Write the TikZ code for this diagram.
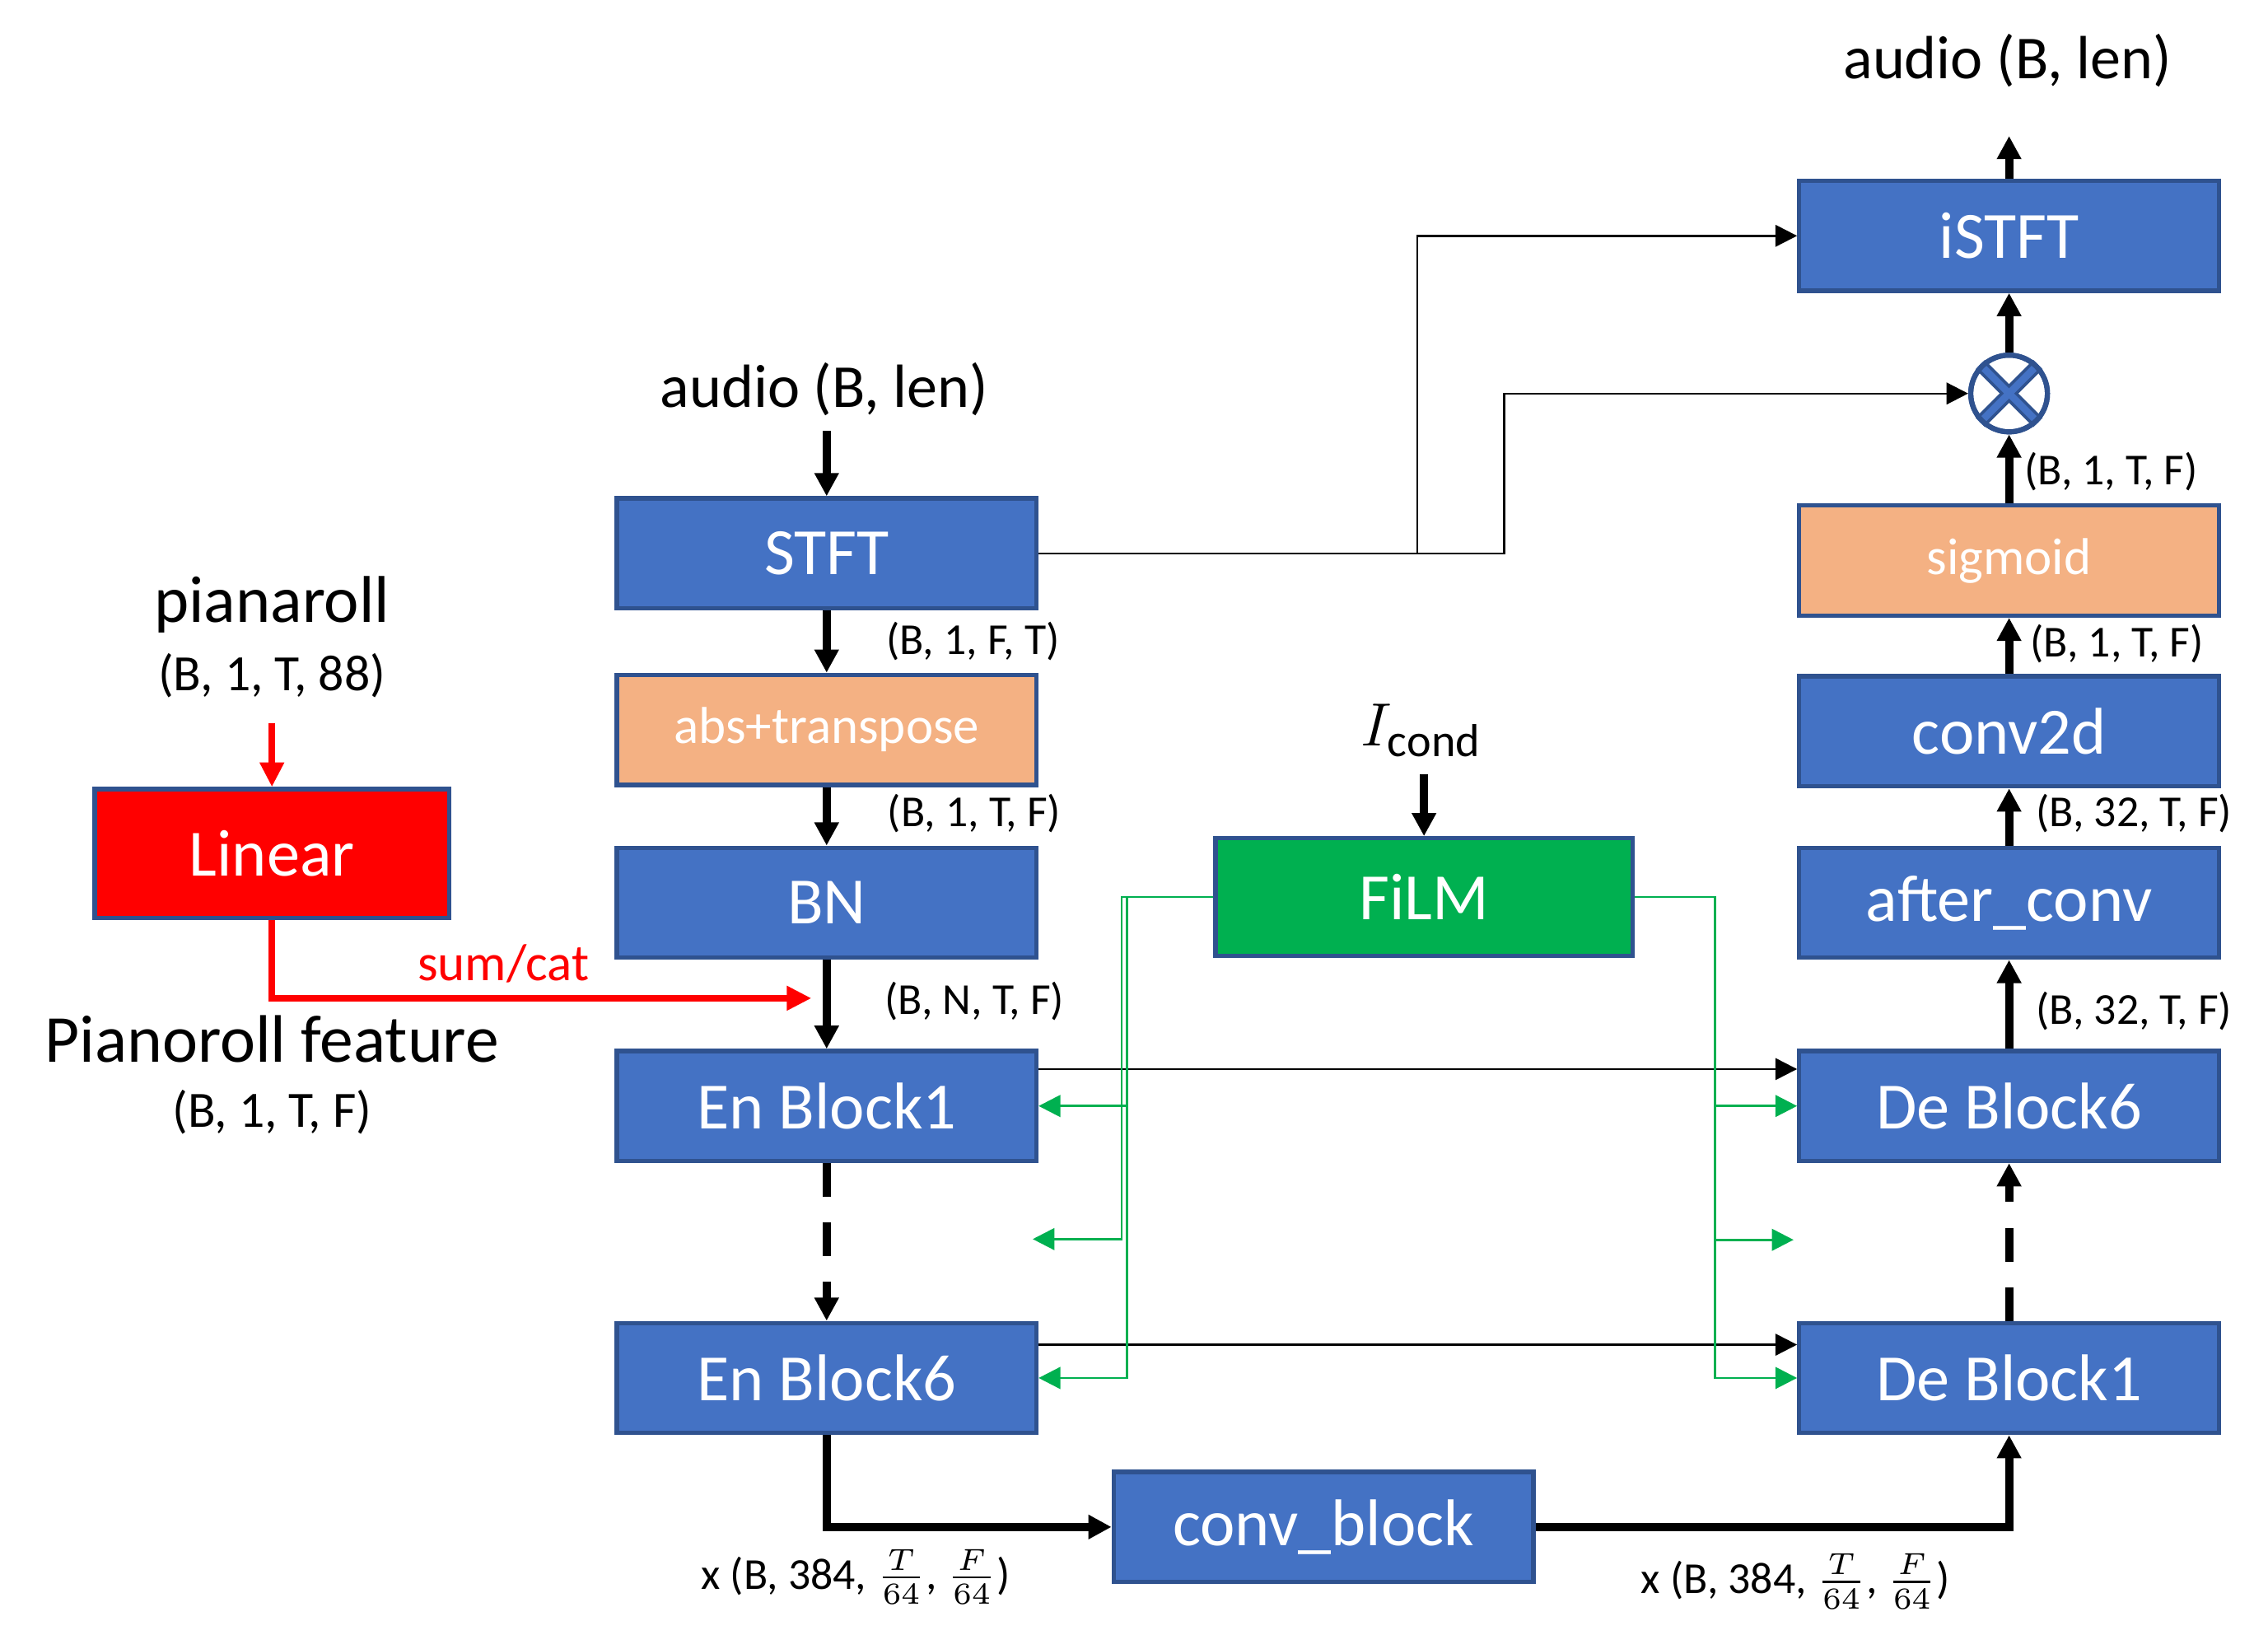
\documentclass[tikz,border=0pt]{standalone}
\usepackage{fontspec}
\setmainfont{Carlito}
\usetikzlibrary{arrows.meta,calc}
\definecolor{bluef}{HTML}{4472C4}
\definecolor{bordc}{HTML}{2F528F}
\definecolor{orangef}{HTML}{F4B183}
\definecolor{greenf}{HTML}{00B050}
\definecolor{redf}{HTML}{FF0000}
\begin{document}
\begin{tikzpicture}[x=0.01cm,y=-0.01cm,
  box/.style={draw=bordc, line width=0.85pt, fill=bluef, text=white, minimum width=2.90cm, minimum height=0.76cm, inner sep=0pt, font=\fontsize{13}{15}\selectfont},
  obox/.style={box, fill=orangef, font=\fontsize{10.2}{12}\selectfont},
  dimlab/.style={font=\fontsize{8.7}{10}\selectfont, anchor=west, inner sep=0pt},
  biglab/.style={font=\fontsize{12}{14}\selectfont, inner sep=0pt},
  thickarr/.style={line width=1.6pt, -{Triangle[length=0.16cm,width=0.16cm]}},
  thinarr/.style={line width=0.4pt, -{Triangle[length=0.15cm,width=0.15cm]}},
  garr/.style={color=greenf, line width=0.45pt, -{Triangle[length=0.15cm,width=0.15cm]}},
  redarr/.style={color=redf, line width=1.3pt, -{Triangle[length=0.17cm,width=0.16cm]}},
  dashy/.style={dash pattern=on 0.23cm off 0.18cm},
]
\useasboundingbox (0,0) rectangle (1568,1130);

% boxes
\node[box] (istft) at (1389,163) {iSTFT};
\node[box] (stft) at (571.5,382.5) {STFT};
\node[obox] (sig) at (1389,387.5) {sigmoid};
\node[obox] (abs) at (571.5,504.5) {abs+transpose};
\node[box] (c2d) at (1389,505.5) {conv2d};
\node[box, fill=redf, minimum width=2.45cm, minimum height=0.89cm] (lin) at (188,590) {Linear};
\node[box] (bn) at (571.5,624) {BN};
\node[box, fill=greenf, minimum width=2.88cm, minimum height=0.81cm] (film) at (984.5,620) {FiLM};
\node[box] (ac) at (1389,624) {after\_conv};
\node[box] (en1) at (571.5,764.5) {En Block1};
\node[box] (de6) at (1389,764.5) {De Block6};
\node[box] (en6) at (571.5,952.5) {En Block6};
\node[box] (de1) at (1389,952.5) {De Block1};
\node[box] (cb) at (915,1055.5) {conv\_block};

% multiply
\node[circle, draw=bordc, line width=1pt, fill=white, minimum size=0.53cm, inner sep=0pt] (mul) at (1389,272) {};
\draw[bordc, line width=2.6pt] (mul.45) -- (mul.225);
\draw[bordc, line width=2.6pt] (mul.135) -- (mul.315);
\draw[bluef, line width=1.4pt] (mul.45) -- (mul.225);
\draw[bluef, line width=1.4pt] (mul.135) -- (mul.315);
\node[circle, draw=bordc, line width=1pt, minimum size=0.53cm, inner sep=0pt] at (mul) {};

% top labels
\node[biglab] (aout) at (1388,42) {audio (B, len)};
\coordinate (aouttip) at (1389,94);
\node[biglab] (ain) at (570,269) {audio (B, len)};
\coordinate (ainS) at (571.5,298);

% main thick arrows
\draw[thickarr] (istft.north) -- (aouttip);
\draw[thickarr] (mul.north) -- (istft.south);
\draw[thickarr] (sig.north) -- (mul.south);
\draw[thickarr] (c2d.north) -- (sig.south);
\draw[thickarr] (ac.north) -- (c2d.south);
\draw[thickarr] (de6.north) -- (ac.south);
\draw[thickarr, dashy] (de1.north) -- (de6.south);
\draw[thickarr] (cb.east) -| (de1.south);
\draw[thickarr] (en6.south) |- (cb.west);
\draw[thickarr, dashy] (en1.south) -- (en6.north);
\draw[thickarr] (bn.south) -- (en1.north);
\draw[thickarr] (abs.south) -- (bn.north);
\draw[thickarr] (stft.south) -- (abs.north);
\draw[thickarr] (ainS) -- (stft.north);

% dims
\node[dimlab] at (612,443) {(B, 1, F, T)};
\node[dimlab] at (613,562) {(B, 1, T, F)};
\node[dimlab] at (611,692) {(B, N, T, F)};
\node[dimlab] at (1399,326) {(B, 1, T, F)};
\node[dimlab] at (1403,445) {(B, 1, T, F)};
\node[dimlab] at (1407,562) {(B, 32, T, F)};
\node[dimlab] at (1407,699) {(B, 32, T, F)};
\node[dimlab] at (484,1090) {x (B, 384, $\frac{T}{64}$, $\frac{F}{64}$)};
\node[dimlab] at (1134,1093) {x (B, 384, $\frac{T}{64}$, $\frac{F}{64}$)};

% I cond
\node[font=\fontsize{13}{15}\selectfont, inner sep=0pt] (icond) at (983,505) {$I_{\mathrm{cond}}$};
\coordinate (icS) at (984.5,535);
\draw[thickarr] (icS) -- (film.north);

% pianoroll side
\node[font=\fontsize{13}{15}\selectfont, inner sep=0pt] (pr) at (188,418) {pianaroll};
\node[font=\fontsize{10}{12}\selectfont, inner sep=0pt] (pr88) at (188,467) {(B, 1, T, 88)};
\coordinate (rs) at (188,500);
\draw[redarr] (rs) -- (lin.north);
\coordinate (re) at (561,690);
\draw[redarr] (lin.south) |- (re);
\node[text=redf, font=\fontsize{10.2}{12}\selectfont, inner sep=0pt] (sc) at (348,666) {sum/cat};
\node[font=\fontsize{13.2}{15}\selectfont, inner sep=0pt] (pf) at (188,718) {Pianoroll feature};
\node[font=\fontsize{10}{12}\selectfont, inner sep=0pt] (pfd) at (188,769) {(B, 1, T, F)};

% thin black skip lines
\coordinate (j1) at (980,382.5);
\coordinate (j2) at (1040,382.5);
\draw[thinarr] (stft.east) -- (j2) |- (mul.west);
\draw[thinarr] (j1) |- (istft.west);
\draw[thinarr] ([yshift=0.255cm]en1.east) -- ([yshift=0.255cm]de6.west);
\draw[thinarr] ([yshift=0.23cm]en6.east) -- ([yshift=0.23cm]de1.west);

% green FiLM lines
\coordinate (gA) at (779,620);
\coordinate (gB) at (775.5,620);
\coordinate (gC) at (1185.5,620);
\coordinate (gLm) at (714,856.5);
\coordinate (gRm) at (1240,857);
\draw[garr] (film.west) -- (gA) |- (en6.east);
\draw[garr] (en1.east -| gA) -- (en1.east);
\draw[garr] (film.west) -- (gB) |- (gLm);
\draw[garr] (film.east) -- (gC) |- (de1.west);
\draw[garr] (de6.west -| gC) -- (de6.west);
\draw[garr] (gRm -| gC) -- (gRm);
\end{tikzpicture}
\end{document}
